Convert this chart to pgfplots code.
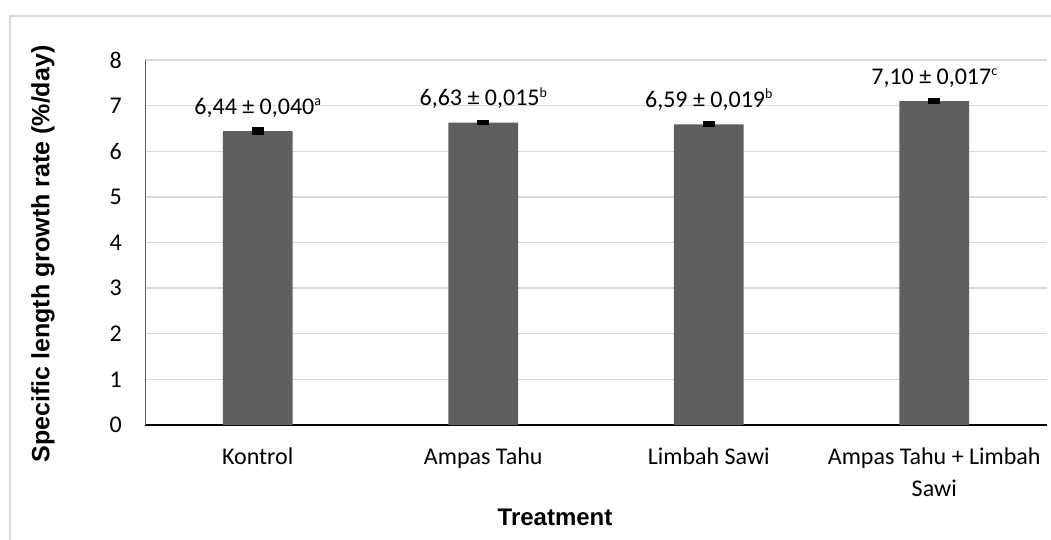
\documentclass[border=0pt]{standalone}
\usepackage{pgfplots}
\usepackage{pgfplotstable}
\pgfplotsset{compat=1.18}
\usepackage{fontspec}
\setmainfont{Carlito}
\newfontfamily\arial{Liberation Sans}
\definecolor{barc}{RGB}{94,94,94}
\definecolor{gridc}{RGB}{217,217,217}
\definecolor{framec}{RGB}{217,217,217}
\newcommand{\sups}[1]{\raisebox{8.5pt}{\fontsize{14}{14}\selectfont #1}}
\pgfplotstableread[col sep=semicolon]{
x;y;e;lab
0;6.44;0.040;6,44 ± 0,040\sups{a}
1;6.63;0.015;6,63 ± 0,015\sups{b}
2;6.59;0.019;6,59 ± 0,019\sups{b}
3;7.10;0.017;7,10 ± 0,017\sups{c}
}\datatable
\begin{document}
\fontsize{24}{32}\selectfont
\begin{tikzpicture}
\draw[framec, line width=2pt] (10pt,-10pt) |- (1070pt,523pt);
\begin{axis}[
  at={(145pt,114pt)}, anchor=south west,
  scale only axis, width=902pt, height=365pt,
  xmin=-0.5, xmax=3.5, ymin=0, ymax=8,
  ytick={0,1,...,8},
  xtick={0,1,2,3},
  xticklabels={Kontrol, Ampas Tahu, Limbah Sawi, {Ampas Tahu + Limbah\\Sawi}},
  major tick length=0pt,
  axis x line=bottom, axis y line=left,
  axis line style={-},
  x axis line style={black, line width=1.6pt},
  y axis line style={barc, line width=1pt},
  ymajorgrids, grid style={gridc, line width=1.3pt},
  /pgf/number format/assume math mode=true,
  tick label style={font=\fontsize{24}{32}\selectfont},
  yticklabel style={anchor=east, inner sep=0pt, xshift=-23pt},
  xticklabel style={anchor=north, inner sep=0pt, yshift=-23pt, align=center},
  ybar, bar width=0.31, bar shift=0pt,
  clip=false,
]
\addplot[fill=barc, draw=none,
  error bars/.cd, y dir=both, y explicit,
  error bar style={black, line width=1pt},
  error mark options={black, rotate=90, mark size=6pt, line width=4pt}]
  table[x=x, y=y, y error=e] {\datatable};
\addplot[draw=none, fill=none,
  nodes near coords, point meta=explicit symbolic,
  every node near coord/.style={anchor=base, yshift=17pt, inner sep=0pt, font=\fontsize{24}{30}\selectfont, text=black}]
  table[x=x, y=y, meta=lab] {\datatable};
\end{axis}
\node[rotate=90, anchor=center, font=\arial\bfseries\fontsize{25}{30}\selectfont] at (43pt,285pt) {Specific length growth rate (\%/day)};
\node[anchor=base, font=\arial\bfseries\fontsize{24}{30}\selectfont] at (555pt,14pt) {Treatment};
\pgfresetboundingbox
\path[use as bounding box] (0,0) rectangle (1051pt,539pt);
\end{tikzpicture}
\end{document}
